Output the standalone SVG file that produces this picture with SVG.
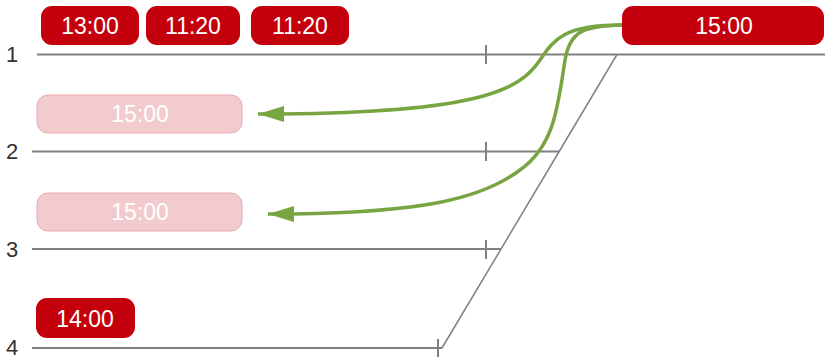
<svg xmlns="http://www.w3.org/2000/svg" width="825" height="357" viewBox="0 0 825 357">
<defs>
<style>
.lane{stroke:#808080;stroke-width:2;fill:none}
.thin{stroke:#808080;stroke-width:1.5;fill:none}
.num{font-family:"Liberation Sans",Arial,sans-serif;font-size:22px;fill:#333}
.red rect{fill:#c4000d}
.pink rect{fill:#f2cbce;stroke:#eaa9ae;stroke-width:1}
.lbl{font-family:"Liberation Sans",Arial,sans-serif;font-size:23px;fill:#fff;text-anchor:middle}
.arrow{stroke:#78a542;stroke-width:3.5;fill:none}
</style>
<marker id="ah" markerUnits="userSpaceOnUse" markerWidth="28" markerHeight="20" refX="26" refY="9" orient="auto" viewBox="0 0 28 18">
<path d="M26,9 L0,1 L0,17 Z" fill="#78a542"/>
</marker>
</defs>
<g id="lanes">
<text class="num" x="6" y="62">1</text>
<text class="num" x="6" y="159">2</text>
<text class="num" x="6" y="257">3</text>
<text class="num" x="6" y="355">4</text>
<line class="lane" x1="37" y1="54.5" x2="825" y2="54.5"/>
<line class="lane" x1="32" y1="151.5" x2="559" y2="151.5"/>
<line class="lane" x1="32" y1="249" x2="501" y2="249"/>
<line class="lane" x1="32" y1="348" x2="442" y2="348"/>
<line class="lane" x1="486" y1="45" x2="486" y2="64"/>
<line class="lane" x1="486" y1="142" x2="486" y2="161"/>
<line class="lane" x1="486" y1="240" x2="486" y2="259"/>
<line class="lane" x1="438" y1="339" x2="438" y2="357"/>
<line class="thin" x1="617" y1="54.5" x2="442" y2="348"/>
</g>
<g id="n1300" class="red"><rect x="41" y="6" width="98" height="39" rx="11"/><text class="lbl" x="90" y="34">13:00</text></g>
<g id="n1120a" class="red"><rect x="146" y="6" width="94" height="39" rx="11"/><text class="lbl" x="193" y="34">11:20</text></g>
<g id="n1120b" class="red"><rect x="251" y="6" width="98" height="39" rx="11"/><text class="lbl" x="300" y="34">11:20</text></g>
<g id="n1500" class="red"><rect x="622" y="6" width="202" height="39" rx="11"/><text class="lbl" x="724" y="34">15:00</text></g>
<g id="n1500a" class="pink"><rect x="37" y="95" width="205" height="38" rx="11"/><text class="lbl" x="140" y="122">15:00</text></g>
<g id="n1500b" class="pink"><rect x="37" y="193" width="205" height="38" rx="11"/><text class="lbl" x="140" y="220">15:00</text></g>
<g id="n1400" class="red"><rect x="36" y="298" width="99" height="40" rx="11"/><text class="lbl" x="85" y="327">14:00</text></g>
<g id="connectors">
<path class="arrow" d="M622,25 C565,25 555,38 540,60 C520,90 480,112 282,114 L258,114" marker-end="url(#ah)"/>
<path class="arrow" d="M622,25 C585,26 570,30 565,60 C558,105 555,145 520,170 C480,200 420,212 292,214 L268,214" marker-end="url(#ah)"/>
</g>
</svg>
